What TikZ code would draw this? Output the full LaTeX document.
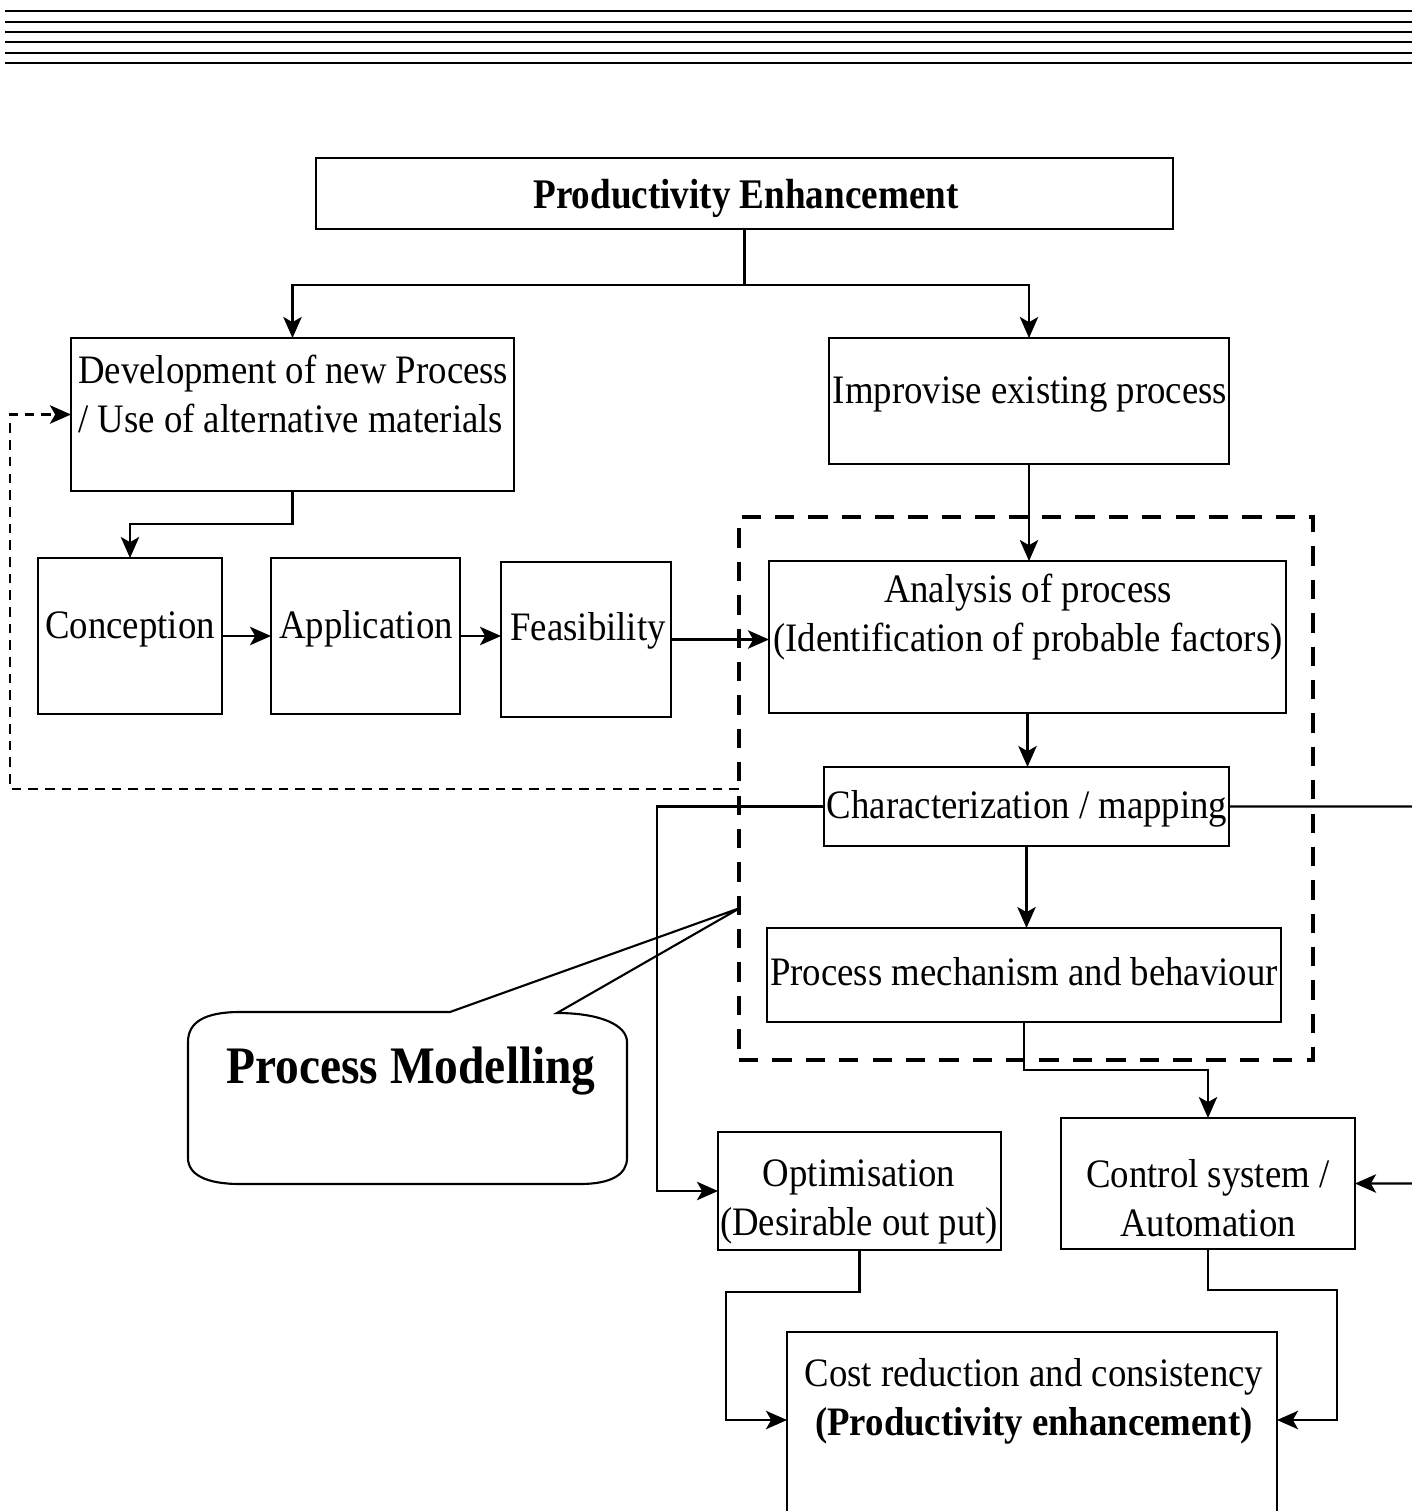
\documentclass[tikz,border=0pt]{standalone}
\usepackage{fontspec}
\setmainfont{Liberation Serif}
\newfontfamily\dfont[FakeStretch=0.91]{Liberation Serif}
\newfontfamily\tfont[FakeStretch=0.88]{Liberation Serif}
\newfontfamily\pfont[FakeStretch=0.9]{Liberation Serif}
\usetikzlibrary{arrows.meta,fit}
\begin{document}
\begin{tikzpicture}[x=0.02cm,y=-0.02cm,
  box/.style={draw, line width=1.2pt, inner sep=0pt, outer sep=0pt},
  txt/.style={font=\dfont\fontsize{23}{28}\selectfont, inner sep=0pt, align=center},
  arr/.style={line width=1.2pt, -{Stealth[length=12pt,width=10.5pt,inset=3pt]}},
  ln/.style={line width=1.2pt},
  hdr/.style={line width=1.7pt},
  pmbox/.style={draw, line width=2.8pt, dash pattern=on 11pt off 8pt, inner sep=0pt, outer sep=0pt},
  loopln/.style={line width=1.5pt, dash pattern=on 5.5pt off 4pt, -{Stealth[length=12pt,width=10.5pt,inset=3pt]}}]
\useasboundingbox (0,0) rectangle (1412,1511);
% header rules
\foreach \yy in {11,22,32,42,53,63} \draw[hdr] (5,\yy) -- (1412,\yy);
% boxes
\node[box, fit={(316,158)(1173,229)}] (pe) {};
\node[box, fit={(71,338)(514,491)}] (dev) {};
\node[box, fit={(829,338)(1229,464)}] (imp) {};
\node[box, fit={(38,558)(222,714)}] (con) {};
\node[box, fit={(271,558)(460,714)}] (app) {};
\node[box, fit={(501,562)(671,717)}] (fea) {};
\node[box, fit={(769,561)(1286,713)}] (ana) {};
\node[box, fit={(824,767)(1229,846)}] (chr) {};
\node[box, fit={(767,928)(1281,1022)}] (mec) {};
\node[box, fit={(718,1132)(1001,1250)}] (opt) {};
\node[box, fit={(1061,1118)(1355,1249)}] (ctl) {};
\node[box, fit={(787,1332)(1277,1560)}] (cst) {};
\node[pmbox, fit={(739,517)(1313,1060)}] (pm) {};
% texts
\node[txt, font=\tfont\fontsize{24}{28}\selectfont\bfseries] (pet) at (746,198) {Productivity Enhancement};
\node[txt, anchor=west, align=left] (devt) at (78,394) {Development of new Process\\/ Use of alternative materials};
\node[txt] (impt) at (1030,394) {Improvise existing process};
\node[txt] (cont) at (130,629) {Conception};
\node[txt] (appt) at (366,629) {Application};
\node[txt] (feat) at (588,631) {Feasibility};
\node[txt] (anat) at (1028,617) {Analysis of process\\(Identification of probable factors)};
\node[txt] (chrt) at (1027,809) {Characterization / mapping};
\node[txt] (mect) at (1024,972) {Process mechanism and behaviour};
\node[txt] (optt) at (859,1202) {Optimisation\\(Desirable out put)};
\node[txt] (ctlt) at (1208,1198) {Control system /\\Automation};
\node[txt] (cstt) at (1034,1401) {Cost reduction and consistency\\\bfseries(Productivity enhancement)};
% callout
\draw[ln] (450,1012) -- (240,1012) .. controls (205,1012) and (188,1022) .. (188,1042)
  -- (188,1158) .. controls (188,1174) and (205,1184) .. (240,1184)
  -- (580,1184) .. controls (612,1184) and (627,1174) .. (627,1158)
  -- (627,1042) .. controls (627,1025) and (600,1013) .. (557,1013)
  -- (740,908) -- cycle;
\node[txt, font=\pfont\fontsize{30}{34}\selectfont\bfseries] (pmt) at (411,1071) {Process Modelling};
% connectors
\draw[ln] (pe.south) -- (pe.south |- 0,285) coordinate (fork);
\draw[arr] (fork) -| (dev.north);
\draw[arr] (fork) -| (imp.north);
\draw[arr] (dev.south) -- ++(0,33) -| (con.north);
\draw[arr] (con.east) -- (con.east -| app.west);
\draw[arr] (app.east) -- (app.east -| fea.west);
\draw[arr] (fea.east) -- (fea.east -| ana.west);
\draw[arr] (imp.south) -- (imp.south |- ana.north);
\draw[arr] (ana.south) -- (ana.south |- chr.north);
\draw[arr] (chr.south) -- (chr.south |- mec.north);
\draw[arr] (mec.south) -- ++(0,48) -| (ctl.north);
\draw[arr] (chr.west) -- ++(-167,0) |- (opt.west);
\coordinate (rtop) at (1412,806.5);
\coordinate (rbot) at (1412,1183.5);
\draw[ln] (chr.east) -- (rtop);
\draw[arr] (rbot) -- (ctl.east);
\coordinate (cin) at (0,1420);
\draw[arr] (opt.south) -- ++(0,42) -- (726,1292) -- (726,1420) -- (cst.west |- cin);
\draw[arr] (ctl.south) -- ++(0,41) -- (1337,1290) -- (1337,1420) -- (cst.east |- cin);
% dashed feedback loop
\coordinate (ls) at (pm.west |- 0,789);
\draw[loopln] (ls) -- (10,789) -- (dev.west -| 10,0) -- (dev.west);
\end{tikzpicture}
\end{document}
